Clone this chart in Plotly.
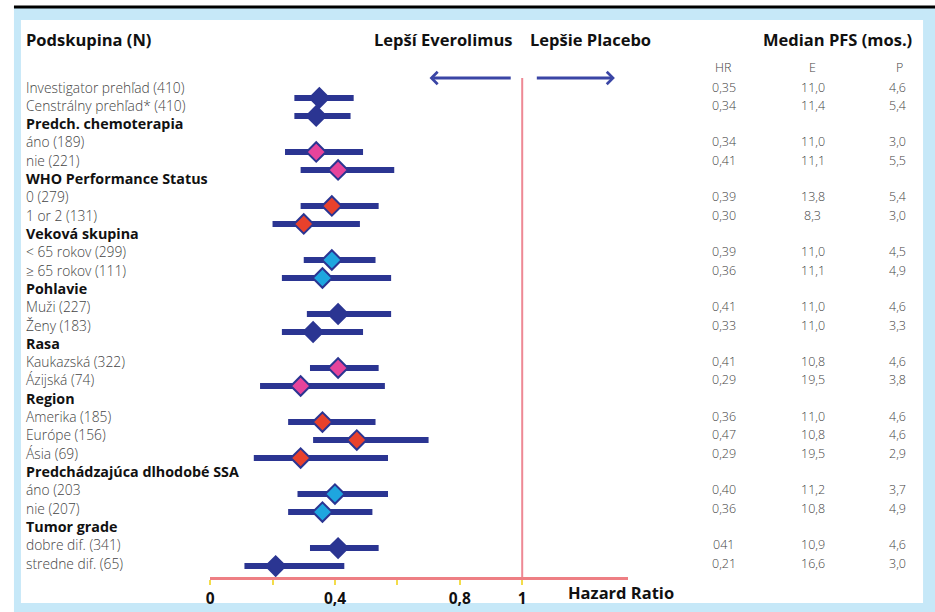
import plotly.graph_objects as go

W, H = 935, 612

# ---------------- data ----------------
row_labels = [
    "Investigator prehľad (410)", "Censtrálny prehľad* (410)",
    "Predch. chemoterapia", "áno (189)", "nie (221)",
    "WHO Performance Status", "0 (279)", "1 or 2 (131)",
    "Veková skupina", "< 65 rokov (299)", "≥ 65 rokov (111)",
    "Pohlavie", "Muži (227)", "Ženy (183)",
    "Rasa", "Kaukazská (322)", "Ázijská (74)",
    "Region", "Amerika (185)", "Európe (156)", "Ásia (69)",
    "Predchádzajúca dlhodobé SSA", "áno (203", "nie (207)",
    "Tumor grade", "dobre dif. (341)", "stredne dif. (65)",
]
header_names = [
    "Predch. chemoterapia", "WHO Performance Status", "Veková skupina",
    "Pohlavie", "Rasa", "Region", "Predchádzajúca dlhodobé SSA", "Tumor grade",
]

sub_hr = [0.35, 0.34, 0.34, 0.41, 0.39, 0.30, 0.39, 0.36, 0.41, 0.33,
          0.41, 0.29, 0.36, 0.47, 0.29, 0.40, 0.36, 0.41, 0.21]
sub_lo = [0.27, 0.27, 0.24, 0.29, 0.29, 0.20, 0.30, 0.23, 0.31, 0.23,
          0.32, 0.16, 0.25, 0.33, 0.14, 0.28, 0.25, 0.32, 0.11]
sub_hi = [0.46, 0.45, 0.49, 0.59, 0.54, 0.48, 0.53, 0.58, 0.58, 0.49,
          0.54, 0.56, 0.53, 0.70, 0.57, 0.57, 0.52, 0.54, 0.43]
sub_group = ["all", "all", "chemo", "chemo", "who", "who", "age", "age",
             "sex", "sex", "race", "race", "region", "region", "region",
             "ssa", "ssa", "grade", "grade"]

hr_text = ["0,35", "0,34", "0,34", "0,41", "0,39", "0,30", "0,39", "0,36",
           "0,41", "0,33", "0,41", "0,29", "0,36", "0,47", "0,29", "0,40",
           "0,36", "041", "0,21"]
e_text = ["11,0", "11,4", "11,0", "11,1", "13,8", "8,3", "11,0", "11,1",
          "11,0", "11,0", "10,8", "19,5", "11,0", "10,8", "19,5", "11,2",
          "10,8", "10,9", "16,6"]
p_text = ["4,6", "5,4", "3,0", "5,5", "5,4", "3,0", "4,5", "4,9", "4,6",
          "3,3", "4,6", "3,8", "4,6", "4,6", "2,9", "3,7", "4,9", "4,6", "3,0"]

x_tickvals = [0, 0.2, 0.4, 0.6, 0.8, 1.0]
x_ticktext = ["0", "", "0,4", "", "0,8", "1"]

# ---------------- styles ----------------
NAVY = "#2b3592"
group_fill = {"all": NAVY, "chemo": "#e6449b", "who": "#e8412c",
              "age": "#1ea6df", "sex": NAVY, "race": "#e6449b",
              "region": "#e8412c", "ssa": "#1ea6df", "grade": NAVY}
FONT = "Open Sans"
TXT = "#444444"

sub_rows = [i for i, lab in enumerate(row_labels) if lab not in header_names]
sub_fill = [group_fill[g] for g in sub_group]

# ---------------- traces ----------------
ci_x, ci_y = [], []
for r, lo, hi in zip(sub_rows, sub_lo, sub_hi):
    ci_x += [lo, hi, None]
    ci_y += [r, r, None]

fig = go.Figure()
fig.add_trace(go.Scatter(x=[1, 1], y=[-0.49, 26.76], mode="lines",
                         line=dict(color="#ee8894", width=2),
                         yaxis="y", hoverinfo="skip", showlegend=False))
fig.add_trace(go.Scatter(x=ci_x, y=ci_y, mode="lines",
                         line=dict(color=NAVY, width=6),
                         yaxis="y2", hoverinfo="skip", showlegend=False))
fig.add_trace(go.Scatter(x=sub_hr, y=sub_rows, mode="markers",
                         marker=dict(symbol="diamond", size=15, color=sub_fill,
                                     line=dict(color=NAVY, width=2)),
                         yaxis="y2", showlegend=False))

ann = []
def py(p):
    return 1 - p / H

LX = 20 / W
# left labels
for i, lab in enumerate(row_labels):
    hdr = lab in header_names
    ann.append(dict(x=LX, xref="paper", y=i, yref="y", text=lab,
                    showarrow=False, xanchor="left", yanchor="middle",
                    font=dict(family=FONT, size=14.3 if hdr else 13.8,
                              color="#111" if hdr else TXT,
                              weight="bold" if hdr else 300)))
# table
for r, a, b, c in zip(sub_rows, hr_text, e_text, p_text):
    ann.append(dict(x=723 / W, xref="paper", y=r, yref="y", text=a, showarrow=False,
                    xanchor="center", font=dict(family=FONT, size=12.5, color=TXT, weight=300)))
    ann.append(dict(x=812 / W, xref="paper", y=r, yref="y", text=b, showarrow=False,
                    xanchor="center", font=dict(family=FONT, size=12.5, color=TXT, weight=300)))
    ann.append(dict(x=908 / W, xref="paper", y=r, yref="y", text=c, showarrow=False,
                    xanchor="right", font=dict(family=FONT, size=12.5, color=TXT, weight=300)))
for txt, xx, anc in [("HR", 723, "center"), ("E", 812, "center"), ("P", 905, "right")]:
    ann.append(dict(x=xx / W, xref="paper", y=-1.04, yref="y", text=txt, showarrow=False,
                    xanchor=anc, font=dict(family=FONT, size=12.5, color=TXT, weight=300)))

# headers
hfont = dict(family=FONT, size=16.5, color="#111", weight="bold")
ann.append(dict(x=LX, xref="paper", y=py(40), yref="paper", text="Podskupina (N)",
                showarrow=False, xanchor="left", yanchor="middle", font=hfont))
ann.append(dict(x=512 / W, xref="paper", y=py(40), yref="paper", text="Lepší Everolimus",
                showarrow=False, xanchor="right", yanchor="middle", font=hfont))
ann.append(dict(x=526 / W, xref="paper", y=py(40), yref="paper", text="Lepšie Placebo",
                showarrow=False, xanchor="left", yanchor="middle", font=hfont))
ann.append(dict(x=914 / W, xref="paper", y=py(40), yref="paper", text="Median PFS (mos.)",
                showarrow=False, xanchor="right", yanchor="middle", font=hfont))
ann.append(dict(x=620 / W, xref="paper", y=py(592), yref="paper", text="Hazard Ratio",
                showarrow=False, xanchor="center", yanchor="middle", font=hfont))

# arrows
for tip, tail in [(0.703, 0.968), (1.297, 1.042)]:
    ann.append(dict(x=tip, y=-0.49, xref="x", yref="y", ax=tail, ay=-0.49,
                    axref="x", ayref="y", text="", showarrow=True,
                    arrowhead=4, arrowsize=0.8, arrowwidth=3, arrowcolor="#3a45a5"))

shapes = [
    dict(type="rect", xref="paper", yref="paper", x0=10 / W, x1=1, y0=0, y1=py(8),
         fillcolor="#c6e8f8", line=dict(width=0), layer="below"),
    dict(type="rect", xref="paper", yref="paper", x0=17 / W, x1=923 / W,
         y0=py(603), y1=py(20), fillcolor="white", line=dict(width=0), layer="below"),
    dict(type="line", xref="paper", yref="paper", x0=10 / W, x1=1, y0=py(7), y1=py(7),
         line=dict(color="black", width=3)),
]

ydom = [1 - 577 / H, 1]
fig.update_layout(
    width=W, height=H, autosize=False,
    margin=dict(l=0, r=0, t=0, b=0),
    paper_bgcolor="white", plot_bgcolor="rgba(0,0,0,0)",
    xaxis=dict(domain=[207 / W, 627 / W], range=[0, 1.34], showgrid=False,
               zeroline=False, showline=True, linecolor="#ee7f84", linewidth=3,
               ticks="outside", tickvals=x_tickvals, ticktext=x_ticktext,
               ticklen=5, tickwidth=2, tickcolor="#f3dc4a",
               tickfont=dict(family=FONT, size=15.5, color="#111", weight="bold"),
               fixedrange=True),
    yaxis=dict(domain=ydom, range=[26.762, -4.752], visible=False, fixedrange=True),
    yaxis2=dict(overlaying="y", range=[26.605, -5.436], visible=False, fixedrange=True),
    annotations=ann, shapes=shapes, showlegend=False,
)

fig.write_html("out.html", config={"displayModeBar": False},
               post_script="document.body.style.margin='0';"
                           "document.body.style.padding='0';"
                           "document.body.style.overflow='hidden';")
